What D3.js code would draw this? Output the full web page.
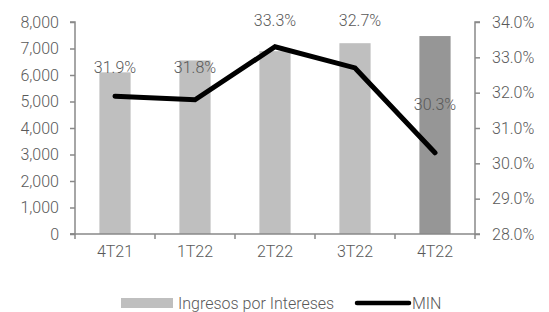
<!DOCTYPE html>
<html>
<head>
<meta charset="utf-8">
<script src="https://cdn.jsdelivr.net/npm/d3@7"></script>
<style>
  body { margin: 0; background: #fff; }
  svg text { font-family: Roboto, "Liberation Sans", sans-serif; font-weight: 300; fill: #595959; }
</style>
</head>
<body>
<svg id="chart" width="549" height="312"></svg>
<script>
'use strict'

// data
const quarters = ['4T21', '1T22', '2T22', '3T22', '4T22']
const ingresos = [6100, 6550, 6900, 7200, 7470]
const min = [31.9, 31.8, 33.3, 32.7, 30.3]
const leftTicks = [0, 1000, 2000, 3000, 4000, 5000, 6000, 7000, 8000]
const rightTicks = [28, 29, 30, 31, 32, 33, 34]

const svg = d3.select('#chart')
const mLeft = 75, mRight = 475, mTop = 22, mBottom = 234

const x = d3.scaleBand().domain(quarters).range([mLeft, mRight]).paddingInner(0.61).paddingOuter(0.305)
const yL = d3.scaleLinear().domain([0, 8000]).range([mBottom, mTop])
const yR = d3.scaleLinear().domain([28, 34]).range([mBottom, mTop])

const fmt = d3.format(',')
const axisColor = '#898989'
const fs = '16px'

// bars
svg.append('g')
  .selectAll('rect')
  .data(ingresos)
  .join('rect')
  .attr('x', (d, i) => x(quarters[i]))
  .attr('y', d => yL(d))
  .attr('width', x.bandwidth())
  .attr('height', d => mBottom - yL(d))
  .attr('fill', (d, i) => i === ingresos.length - 1 ? '#969696' : '#bfbfbf')

// left axis
const gl = svg.append('g').attr('transform', `translate(${mLeft},0)`)
  .call(d3.axisLeft(yL).tickValues(leftTicks).tickFormat(fmt).tickSize(5).tickPadding(11))
gl.selectAll('text').style('font-size', fs)

// right axis
const gr = svg.append('g').attr('transform', `translate(${mRight},0)`)
  .call(d3.axisRight(yR).tickValues(rightTicks).tickFormat(d => d.toFixed(1) + '%').tickSize(5).tickPadding(12))
gr.selectAll('text').style('font-size', fs)

// x axis, ticks sit between the categories
const step = x.step()
const gx = svg.append('g').attr('transform', `translate(0,${mBottom})`)
  .call(d3.axisBottom(x).tickSize(0).tickPadding(12))
gx.selectAll('text').style('font-size', fs)
gx.append('g').selectAll('line')
  .data(d3.range(quarters.length + 1))
  .join('line')
  .attr('x1', i => mLeft + i * step).attr('x2', i => mLeft + i * step)
  .attr('y1', 0).attr('y2', 5)

for (const g of [gl, gr, gx]) {
  g.select('.domain').attr('stroke', axisColor).attr('stroke-width', 1.5)
  g.selectAll('line').attr('stroke', axisColor).attr('stroke-width', 1.5)
}
gl.select('.domain').attr('d', `M-5,${mTop}H0V${mBottom}H-5`)
gr.select('.domain').attr('d', `M5,${mTop}H0V${mBottom}H5`)
gx.select('.domain').attr('d', `M${mLeft - 5},0H${mRight}`)

// MIN line
const cx = q => x(q) + x.bandwidth() / 2
const line = d3.line().x((d, i) => cx(quarters[i])).y(d => yR(d))
svg.append('path')
  .datum(min)
  .attr('d', line)
  .attr('fill', 'none')
  .attr('stroke', '#000')
  .attr('stroke-width', 5)
  .attr('stroke-linejoin', 'miter')
  .attr('stroke-linecap', 'round')

// data labels, offset as placed in the original
const labelDy = [-23, -27, -21, -42, -43]
const labelDx = [0, 0, 0, 5, 0]
svg.append('g')
  .selectAll('text')
  .data(min)
  .join('text')
  .attr('x', (d, i) => cx(quarters[i]) + labelDx[i])
  .attr('y', (d, i) => yR(d) + labelDy[i])
  .attr('text-anchor', 'middle')
  .style('font-size', fs)
  .text(d => d.toFixed(1) + '%')

// legend
const lg = svg.append('g')
lg.append('rect').attr('x', 121).attr('y', 298).attr('width', 52).attr('height', 10).attr('fill', '#bfbfbf')
lg.append('text').attr('x', 178).attr('y', 309).style('font-size', fs).text('Ingresos por Intereses')
lg.append('line').attr('x1', 357).attr('x2', 409).attr('y1', 303).attr('y2', 303)
  .attr('stroke', '#000').attr('stroke-width', 4.5).attr('stroke-linecap', 'round')
lg.append('text').attr('x', 412).attr('y', 309).style('font-size', fs).text('MIN')
</script>
</body>
</html>
